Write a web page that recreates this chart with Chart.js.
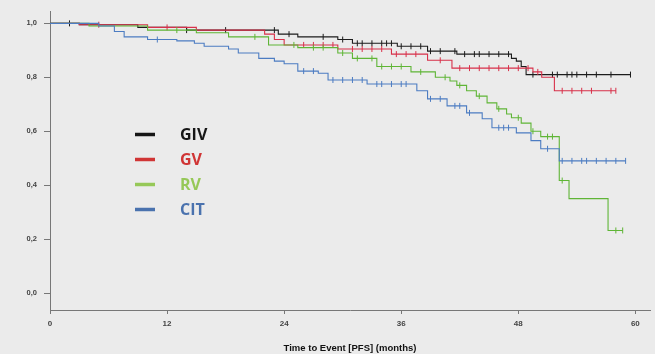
<!DOCTYPE html>
<html>
<head>
<meta charset="utf-8">
<script src="https://cdn.jsdelivr.net/npm/chart.js@4.4.1/dist/chart.umd.min.js"></script>
<style>
  html, body { margin: 0; padding: 0; background: #ebebeb; }
  #wrap { width: 655px; height: 354px; }
</style>
</head>
<body>
<div id="wrap"><canvas id="grafico"></canvas></div>
<script>
// Curvas de sobrevida (PFS) - tempos dos degraus e valores
const names = ['GIV', 'GV', 'RV', 'CIT'];

const givT = [0, 3, 9, 14, 23.4, 25.4, 29.5, 31, 35.6, 38.7, 41.7, 47.3, 47.8, 48.3, 48.8, 59.5];
const givS = [1.0, 0.995, 0.985, 0.975, 0.96, 0.95, 0.94, 0.926, 0.915, 0.897, 0.886, 0.87, 0.86, 0.84, 0.81, 0.81];
const givC = [2, 14, 18, 23, 24.5, 28, 30, 31.5, 32, 33, 34, 34.5, 35, 36, 37, 38, 39, 40, 41.5, 42.5, 43.5, 44, 45, 46, 47, 49.5, 51.5, 52, 53, 53.5, 54, 55, 56, 57.5, 59.5];

const gvT = [0, 3, 10, 15, 22, 23, 24, 29.5, 35, 38.7, 41.2, 49.5, 50.4, 51.7, 58];
const gvS = [1.0, 0.995, 0.985, 0.975, 0.96, 0.94, 0.92, 0.905, 0.886, 0.863, 0.834, 0.82, 0.80, 0.75, 0.75];
const gvC = [5, 12, 26, 27, 28, 29, 31, 32, 33, 34, 35.5, 36.5, 37.5, 40, 42, 43, 44, 45, 46, 47, 48, 49, 50, 52.5, 53.5, 54.5, 55.5, 57.5, 58];

const rvT = [0, 4, 10, 15, 18.3, 22.4, 25.4, 29.5, 31, 33.5, 37, 39.5, 41, 41.7, 42.7, 43.7, 44.8, 45.8, 46.8, 47.3, 48.3, 49.3, 50.3, 52.2, 53.2, 57.2, 58.7];
const rvS = [1.0, 0.99, 0.975, 0.965, 0.95, 0.92, 0.91, 0.89, 0.87, 0.84, 0.82, 0.80, 0.786, 0.77, 0.75, 0.73, 0.705, 0.683, 0.664, 0.65, 0.63, 0.60, 0.58, 0.417, 0.35, 0.232, 0.232];
const rvC = [13, 21, 25, 27, 28, 30, 31.5, 33, 34, 35, 36, 38, 40.5, 42, 44, 46, 48, 49.5, 51, 51.5, 52.5, 58, 58.7];

const citT = [0, 5, 6.6, 7.6, 10, 13, 14.8, 15.8, 18.3, 19.3, 21.4, 23, 24, 25.4, 27.5, 28.5, 32.5, 37.6, 38.7, 40.7, 42.7, 44.3, 45.3, 47.8, 49.3, 50.3, 52.2, 59];
const citS = [1.0, 0.99, 0.97, 0.95, 0.94, 0.935, 0.926, 0.915, 0.905, 0.89, 0.87, 0.86, 0.85, 0.823, 0.815, 0.79, 0.775, 0.75, 0.72, 0.694, 0.668, 0.646, 0.613, 0.594, 0.565, 0.535, 0.49, 0.49];
const citC = [11, 26, 27, 29, 30, 31, 32, 33.5, 34, 35, 36, 36.5, 39, 40, 41.5, 42, 43, 46, 46.5, 47, 51, 52.5, 53.5, 54.5, 55, 56, 57, 58, 59];

const xTicks = [0, 12, 24, 36, 48, 60];
const yTicks = [0, 0.2, 0.4, 0.6, 0.8, 1.0];

const colors = ['#1c1c1c', '#d8304a', '#5fb536', '#4c7cc2'];
const legendColors = ['#161616', '#d03535', '#96c858', '#4a72ae'];

function stepValue(T, S, t) {
    let v = S[0];
    for (let i = 0; i < T.length; i++) {
        if (T[i] <= t) v = S[i];
    }
    return v;
}

const series = [
    [givT, givS, givC],
    [gvT, gvS, gvC],
    [rvT, rvS, rvC],
    [citT, citS, citC]
];

const datasets = [];
series.forEach(function (s, i) {
    datasets.push({
        label: names[i],
        data: s[0].map((t, k) => ({ x: t, y: s[1][k] })),
        showLine: true,
        stepped: 'before',
        borderColor: colors[i],
        borderWidth: 1.1,
        pointRadius: 0,
        order: 10 - i
    });
    datasets.push({
        label: names[i] + ' censored',
        data: s[2].map(t => ({ x: t, y: stepValue(s[0], s[1], t) })),
        showLine: false,
        pointStyle: 'line',
        rotation: 90,
        radius: 3,
        borderColor: colors[i],
        borderWidth: 1,
        order: 10 - i
    });
});

const bgPlugin = {
    id: 'bg',
    beforeDraw(chart) {
        const ctx = chart.ctx;
        ctx.save();
        ctx.fillStyle = '#ebebeb';
        ctx.fillRect(0, 0, chart.width, chart.height);
        ctx.restore();
    }
};

const legendPlugin = {
    id: 'kmLegend',
    afterDraw(chart) {
        const ctx = chart.ctx;
        const a = chart.chartArea;
        ctx.save();
        names.forEach(function (n, i) {
            const y = a.top + 123 + i * 25;
            ctx.strokeStyle = legendColors[i];
            ctx.lineWidth = 3.5;
            ctx.beginPath();
            ctx.moveTo(a.left + 85, y);
            ctx.lineTo(a.left + 105, y);
            ctx.stroke();
            ctx.fillStyle = legendColors[i];
            ctx.font = 'bold 16px "Open Sans"';
            ctx.textBaseline = 'middle';
            ctx.fillText(n, a.left + 130, y + 1);
        });
        ctx.restore();
    }
};

window.onload = function () {
    const ctx = document.getElementById('grafico').getContext('2d');
    new Chart(ctx, {
        type: 'scatter',
        data: { datasets: datasets },
        options: {
            responsive: true,
            maintainAspectRatio: false,
            animation: false,
            layout: { padding: { top: 7, right: 0, left: 0, bottom: 0 } },
            plugins: {
                legend: { display: false },
                tooltip: { enabled: false }
            },
            scales: {
                x: {
                    type: 'linear',
                    min: 0,
                    max: 61.5,
                    afterBuildTicks: s => { s.ticks = xTicks.map(v => ({ value: v })); },
                    afterFit: s => { s.height = 44; },
                    grid: { drawOnChartArea: false, drawTicks: true, tickLength: 4, color: '#777' },
                    border: { display: true, color: '#777', width: 1 },
                    ticks: {
                        color: '#444',
                        padding: 5,
                        maxRotation: 0,
                        font: { family: 'Liberation Sans', size: 8, weight: 'bold' }
                    },
                    title: {
                        display: true,
                        text: 'Time to Event [PFS] (months)',
                        color: '#111',
                        padding: { top: 0, bottom: 0 },
                        font: { family: 'Liberation Sans', size: 9.5, weight: 'bold' }
                    }
                },
                y: {
                    min: -0.063,
                    max: 1.044,
                    afterBuildTicks: s => { s.ticks = yTicks.map(v => ({ value: v })); },
                    afterFit: s => { s.width = 50; },
                    grid: { drawOnChartArea: false, drawTicks: true, tickLength: 6, color: '#777' },
                    border: { display: true, color: '#777', width: 1 },
                    ticks: {
                        color: '#444',
                        padding: 7,
                        font: { family: 'Liberation Sans', size: 7.5, weight: 'bold' },
                        callback: v => v.toFixed(1).replace('.', ',')
                    }
                }
            }
        },
        plugins: [bgPlugin, legendPlugin]
    });
};
</script>
</body>
</html>
